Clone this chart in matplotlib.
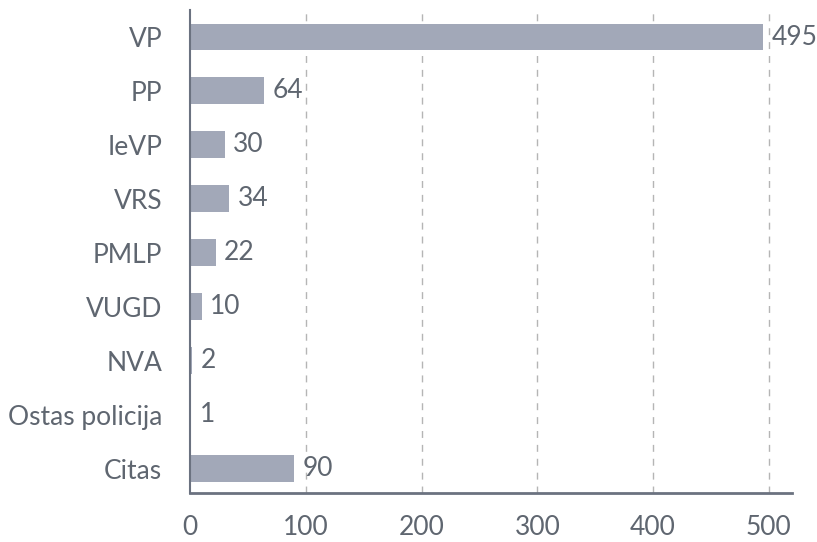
import matplotlib
matplotlib.use('Agg')
import matplotlib.pyplot as plt

# data
categories = ['VP', 'PP', 'IeVP', 'VRS', 'PMLP', 'VUGD', 'NVA', 'Ostas policija', 'Citas']
values = [495, 64, 30, 34, 22, 10, 2, 1, 90]
x_ticks = [0, 100, 200, 300, 400, 500]

plt.rcParams['font.family'] = ['Lato', 'DejaVu Sans']

text_color = '#5f6670'
bar_color = '#a2a8b8'

fig = plt.figure(figsize=(8.17, 5.42), dpi=100)
ax = fig.add_axes([0.2326, 0.0904, 0.7368, 0.8911])

pos = list(range(len(categories)))
ax.barh(pos, values, height=0.5, color=bar_color, zorder=2)
for p, v in zip(pos, values):
    ax.annotate(str(v), (v, p), xytext=(6, 0), textcoords='offset points',
                va='center', ha='left', fontsize=19, color=text_color, zorder=3)

ax.set_ylim(8.45, -0.5)
ax.set_xlim(0, 520)
ax.set_yticks(pos)
ax.set_yticklabels(categories)
ax.set_xticks(x_ticks)

ax.tick_params(axis='y', length=0, pad=20, labelsize=19, labelcolor=text_color)
ax.tick_params(axis='x', length=0, pad=16, labelsize=19, labelcolor=text_color)

# dashed vertical grid, skip the zero line
for t in x_ticks[1:]:
    ax.axvline(t, color='#b5b5b5', linestyle=(0, (5, 5)), linewidth=1, zorder=1)

for s in ['top', 'right']:
    ax.spines[s].set_visible(False)
ax.spines['left'].set_color('#6b7280')
ax.spines['left'].set_linewidth(1.5)
ax.spines['bottom'].set_color('#6b7280')
ax.spines['bottom'].set_linewidth(2)

fig.savefig('out.png', dpi=100)
